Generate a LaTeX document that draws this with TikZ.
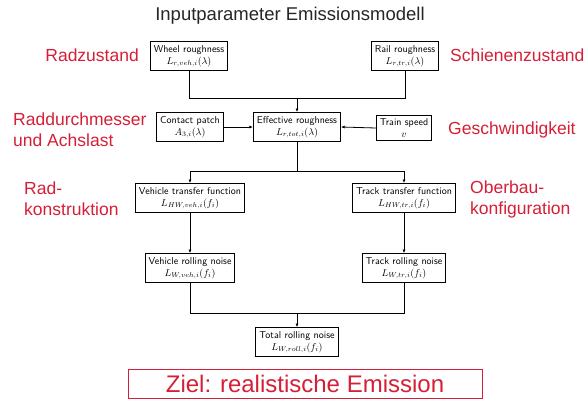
\documentclass[tikz,border=0pt]{standalone}
\usepackage{amsmath}
\usepackage{fontspec}
\newfontfamily\labelfont{Liberation Sans}
\usetikzlibrary{arrows.meta}
\definecolor{labelred}{RGB}{214,30,55}
\tikzset{
  block/.style={draw, line width=1pt, align=center, inner sep=3.5pt,
    font=\sffamily\fontsize{10}{12}\selectfont},
  lab/.style={text=labelred, font=\labelfont\fontsize{17.5}{21}\selectfont,
    align=left, inner sep=0pt},
  flow/.style={-{Latex[length=3.5pt,width=3pt]}, line width=0.8pt},
  link/.style={line width=0.8pt},
}

\begin{document}
\begin{tikzpicture}[x=1pt,y=-1pt]
    \useasboundingbox (0,0) rectangle (586,403);
    % title
    \node[font=\labelfont\fontsize{18.5}{22}\selectfont, text=black!85] (title) at (290,16) {Inputparameter Emissionsmodell};
    % blocks
    \node[block] (wheel) at (189,56) {Wheel roughness\\$L_{r,veh,i}(\lambda)$};
    \node[block] (rail) at (405,56) {Rail roughness\\$L_{r,tr,i}(\lambda)$};
    \node[block] (contact) at (190,127) {Contact patch\\$A_{3,i}(\lambda)$};
    \node[block] (eff) at (297,127) {Effective roughness\\$L_{r,tot,i}(\lambda)$};
    \node[block] (speed) at (404,128) {Train speed\\$v$};
    \node[block] (vtf) at (190,198) {Vehicle transfer function\\$L_{HW,veh,i}(f_i)$};
    \node[block] (ttf) at (404,198) {Track transfer function\\$L_{HW,tr,i}(f_i)$};
    \node[block] (vrn) at (190,268) {Vehicle rolling noise\\$L_{W,veh,i}(f_i)$};
    \node[block] (trn) at (404,268) {Track rolling noise\\$L_{W,tr,i}(f_i)$};
    \node[block] (total) at (297,342) {Total rolling noise\\$L_{W,roll,i}(f_i)$};
    % junctions
    \coordinate (jtop) at (297,98);
    \coordinate (jmid) at (297,171);
    \coordinate (jbot) at (297,313);
    % connectors
    \draw[link] (wheel.south) -- (wheel |- jtop) -- (rail |- jtop) -- (rail.south);
    \draw[flow] (jtop) -- (eff.north);
    \draw[flow] (contact.east) -- (eff.west);
    \draw[flow] (speed.west) -- (eff.east);
    \draw[link] (eff.south) -- (jmid);
    \draw[flow] (jmid) -- (vtf |- jmid) -- (vtf.north);
    \draw[flow] (jmid) -- (ttf |- jmid) -- (ttf.north);
    \draw[flow] (vtf) -- (vrn);
    \draw[flow] (ttf) -- (trn);
    \draw[link] (vrn.south) -- (vrn |- jbot) -- (trn |- jbot) -- (trn.south);
    \draw[flow] (jbot) -- (total.north);
    % red labels
    \node[lab, anchor=east] (lwheel) at (139,55) {Radzustand};
    \node[lab, anchor=west] (lrail) at (450,55) {Schienenzustand};
    \node[lab, anchor=west] (lcontact) at (13,130) {Raddurchmesser\\und Achslast};
    \node[lab, anchor=west] (lspeed) at (448,130) {Geschwindigkeit};
    \node[lab, anchor=west] (lveh) at (24,199) {Rad-\\konstruktion};
    \node[lab, anchor=west] (ltrack) at (470,199) {Oberbau-\\konfiguration};
    % goal
    \node[draw=labelred, line width=1pt, text=labelred, minimum width=354pt, minimum height=29pt,
      font=\labelfont\fontsize{24}{28}\selectfont, inner sep=0pt] (goal) at (305,384) {Ziel: realistische Emission};
\end{tikzpicture}
\end{document}
